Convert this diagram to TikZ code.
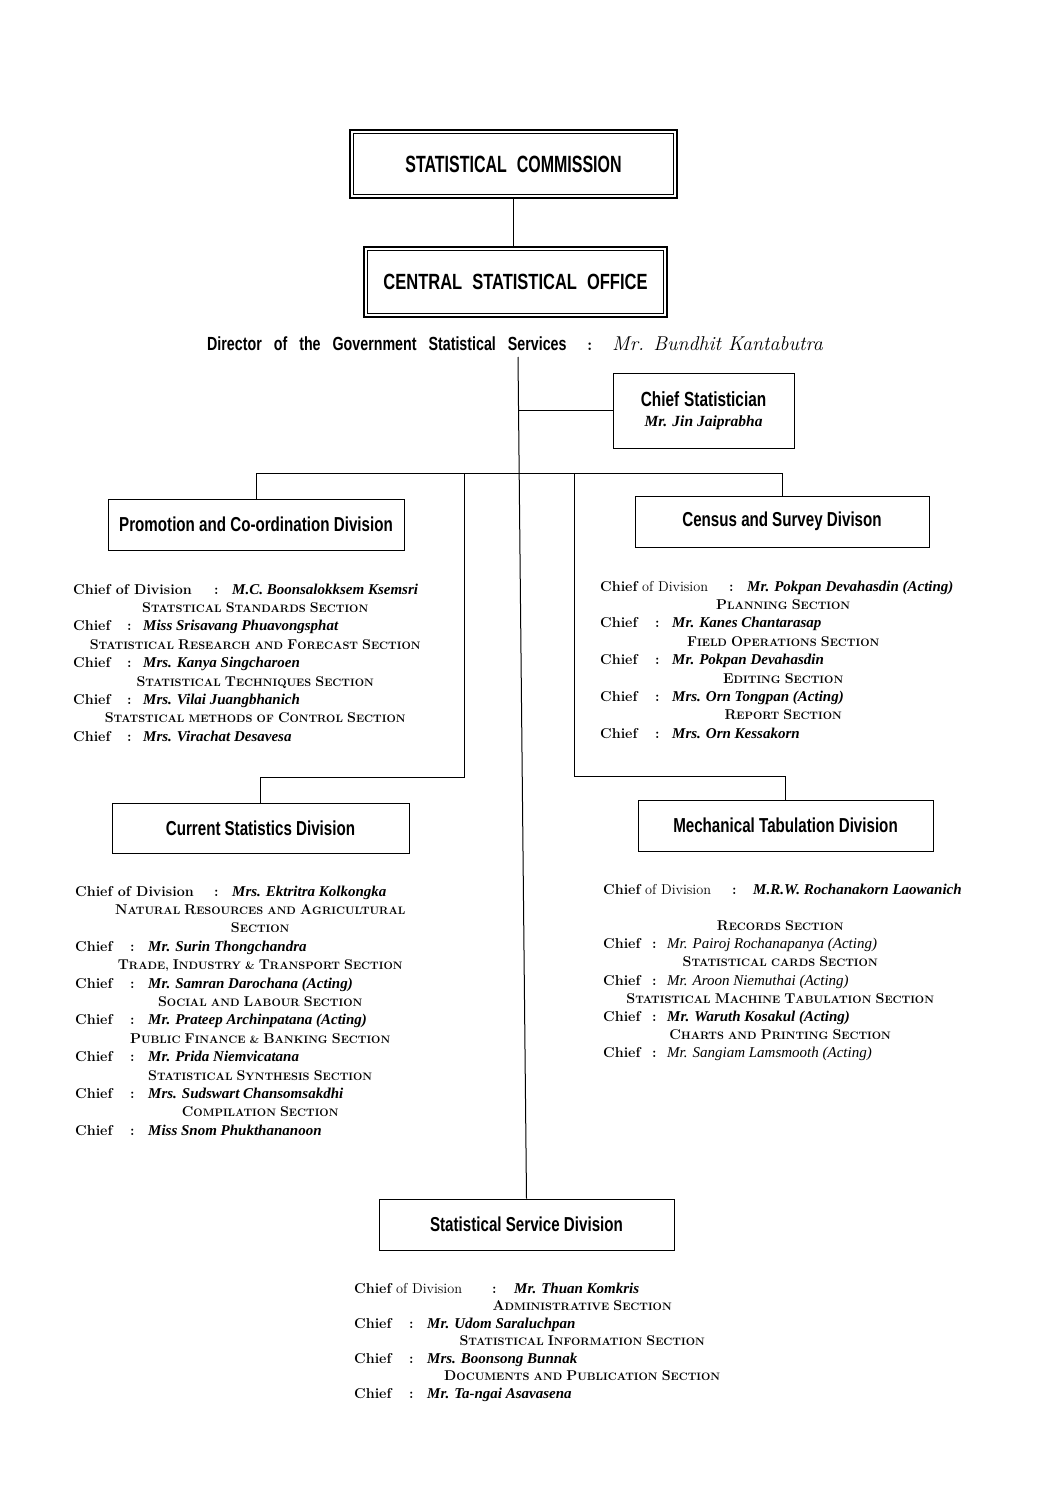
\documentclass[tikz,border=0pt]{standalone}
\usepackage{fontspec}
\newfontfamily\hdA[FakeStretch=0.68]{Liberation Sans}
\newfontfamily\hd[FakeStretch=0.75]{Liberation Sans}
\newfontfamily\nmf{Liberation Serif}
\newcommand\C[1]{{\fontsize{14.2}{14}\selectfont #1}}
\newcommand\scf{\fontsize{10.8}{10.8}\selectfont\bfseries}
\newcommand\sct[1]{\hspace*{\fill}{\scf #1}\hspace*{\fill}\\}
\newcommand\nmb[1]{\mbox{\nmf\bfseries\itshape\fontsize{15}{15}\selectfont #1}}
\newcommand\nmr[1]{\mbox{\nmf\itshape\fontsize{15}{15}\selectfont #1}}
\newcommand\cod[4]{\makebox[#1][l]{#3}\makebox[#2][l]{\bfseries :}\nmb{#4}\\}
\newcommand\chf[3]{\makebox[#1][l]{\bfseries Chief}\makebox[#2][l]{\bfseries :}\nmb{#3}\\}
\newcommand\chfr[3]{\makebox[#1][l]{\bfseries Chief}\makebox[#2][l]{\bfseries :}\nmr{#3}\\}
\tikzset{
  divbox/.style={draw, line width=1pt, inner sep=0pt, font=\hd\bfseries\fontsize{20.2}{22}\selectfont},
  topbox/.style={draw, line width=2.4pt, inner sep=0pt},
  innerframe/.style={line width=0.8pt},
  conn/.style={line width=1pt},
  block/.style={anchor=base west, inner sep=0pt, font=\fontsize{14.3}{18.4}\selectfont},
}
\begin{document}
\begin{tikzpicture}[x=1pt,y=-1pt]
\fill[white] (0,0) rectangle (1040,1487);
\useasboundingbox (0,0) rectangle (1040,1487);

% top boxes
\node[topbox, minimum width=327pt, minimum height=68pt, font=\hdA\bfseries\fontsize{23.5}{26}\selectfont] (sc) at (513.5,164) {STATISTICAL\hspace{10pt}COMMISSION};
\draw[innerframe] ([shift={(5,5)}]sc.north west) rectangle ([shift={(-5,-5)}]sc.south east);
\node[topbox, minimum width=303pt, minimum height=70pt, font=\hd\bfseries\fontsize{22}{26}\selectfont] (cso) at (515.5,282) {CENTRAL\hspace{10pt}STATISTICAL\hspace{10pt}OFFICE};
\draw[innerframe] ([shift={(5,5)}]cso.north west) rectangle ([shift={(-5,-5)}]cso.south east);
\draw[conn] (sc.south) -- (sc.south |- cso.north);

% director line
\node[anchor=base west, inner sep=0pt, font=\hd\bfseries\fontsize{19}{20}\selectfont] (dir) at (207,350) {{\spaceskip=12pt Director of the Government Statistical Services}};
\node[anchor=base west, inner sep=0pt, font=\bfseries\fontsize{17}{20}\selectfont] (dircolon) at (587,350) {:};
\node[anchor=base west, inner sep=0pt, font=\itshape\fontsize{20}{20}\selectfont] (dirname) at (612,350) {Mr. Bundhit Kantabutra};

% chief statistician
\node[draw, line width=1pt, inner sep=0pt, minimum width=181pt, minimum height=75pt, align=center] (cs) at (703.5,410.5)
  {{\hd\bfseries\fontsize{20.5}{20}\selectfont Chief\hspace{5pt}Statistician}\\[8pt]{\nmf\bfseries\itshape\fontsize{15.5}{16}\selectfont Mr. Jin Jaiprabha}};

% division boxes
\node[divbox, minimum width=296pt, minimum height=51pt] (promo) at (256,524.5) {Promotion and Co-ordination Division};
\node[divbox, minimum width=294pt, minimum height=51pt] (census) at (782,521.5) {Census and\hspace{4pt}Survey Divison};
\node[divbox, minimum width=297pt, minimum height=50pt] (cur) at (260.5,828) {Current\hspace{4pt}Statistics Division};
\node[divbox, minimum width=295pt, minimum height=51pt] (mech) at (785.5,825.5) {Mechanical Tabulation Division};
\node[divbox, minimum width=295pt, minimum height=51pt] (ss) at (526.5,1224.5) {Statistical Service Division};

% connectors
\coordinate (dirbot) at (518,357);
\coordinate (csj) at (518,410.5);
\coordinate (jy) at (0,473);
\coordinate (lv) at (464,473);
\coordinate (rv) at (574,473);
\coordinate (ly) at (0,777);
\coordinate (ry) at (0,776);
\draw[conn] (dirbot) -- (ss.north);
\draw[conn] (csj) -- (cs.west);
\draw[conn] (promo.north) -- (promo.north |- jy) -- (census.north |- jy) -- (census.north);
\draw[conn] (lv) -- (lv |- ly) -- (cur.north |- ly) -- (cur.north);
\draw[conn] (rv) -- (rv |- ry) -- (mech.north |- ry) -- (mech.north);

% text blocks
\node[block] (b1) at (73,594) {\begin{minipage}[t]{364pt}
\cod{141pt}{18pt}{\bfseries Chief of Division}{M.C. Boonsalokksem Ksemsri}
\sct{\C{S}TATSTICAL \C{S}TANDARDS \C{S}ECTION}
\chf{54pt}{16pt}{Miss Srisavang Phuavongsphat}
\sct{\C{S}TATISTICAL \C{R}ESEARCH AND \C{F}ORECAST \C{S}ECTION}
\chf{54pt}{16pt}{Mrs. Kanya Singcharoen}
\sct{\C{S}TATISTICAL \C{T}ECHNIQUES \C{S}ECTION}
\chf{54pt}{16pt}{Mrs. Vilai Juangbhanich}
\sct{\C{S}TATSTICAL METHODS OF \C{C}ONTROL \C{S}ECTION}
\chf{54pt}{16pt}{Mrs. Virachat Desavesa}
\end{minipage}};

\node[block] (b2) at (600,591) {\begin{minipage}[t]{366pt}
\cod{129pt}{18pt}{{\bfseries Chief} of Division}{Mr. Pokpan Devahasdin (Acting)}
\sct{\C{P}LANNING \C{S}ECTION}
\chf{55pt}{17pt}{Mr. Kanes Chantarasap}
\sct{\C{F}IELD \C{O}PERATIONS \C{S}ECTION}
\chf{55pt}{17pt}{Mr. Pokpan Devahasdin}
\sct{\C{E}DITING \C{S}ECTION}
\chf{55pt}{17pt}{Mrs. Orn Tongpan (Acting)}
\sct{\C{R}EPORT \C{S}ECTION}
\chf{55pt}{17pt}{Mrs. Orn Kessakorn}
\end{minipage}};

\node[block] (b3) at (75,896) {\begin{minipage}[t]{370pt}
\cod{139pt}{18pt}{\bfseries Chief of Division}{Mrs. Ektritra Kolkongka}
\sct{\C{N}ATURAL \C{R}ESOURCES AND \C{A}GRICULTURAL}
\sct{\C{S}ECTION}
\chf{55pt}{18pt}{Mr. Surin Thongchandra}
\sct{\C{T}RADE, \C{I}NDUSTRY \& \C{T}RANSPORT \C{S}ECTION}
\chf{55pt}{18pt}{Mr. Samran Darochana (Acting)}
\sct{\C{S}OCIAL AND \C{L}ABOUR \C{S}ECTION}
\chf{55pt}{18pt}{Mr. Prateep Archinpatana (Acting)}
\sct{\C{P}UBLIC \C{F}INANCE \& \C{B}ANKING \C{S}ECTION}
\chf{55pt}{18pt}{Mr. Prida Niemvicatana}
\sct{\C{S}TATISTICAL \C{S}YNTHESIS \C{S}ECTION}
\chf{55pt}{18pt}{Mrs. Sudswart Chansomsakdhi}
\sct{\C{C}OMPILATION \C{S}ECTION}
\chf{55pt}{18pt}{Miss Snom Phukthananoon}
\end{minipage}};

\node[block] (b4) at (603,894) {\begin{minipage}[t]{354pt}\fontsize{14.3}{18.2}\selectfont
\cod{129pt}{21pt}{{\bfseries Chief} of Division}{M.R.W. Rochanakorn Laowanich}
\mbox{}\\
\sct{\C{R}ECORDS \C{S}ECTION}
\chfr{49pt}{15pt}{Mr. Pairoj Rochanapanya (Acting)}
\sct{\C{S}TATISTICAL CARDS \C{S}ECTION}
\chfr{49pt}{15pt}{Mr. Aroon Niemuthai (Acting)}
\sct{\C{S}TATISTICAL \C{M}ACHINE \C{T}ABULATION \C{S}ECTION}
\chf{49pt}{15pt}{Mr. Waruth Kosakul (Acting)}
\sct{\C{C}HARTS AND \C{P}RINTING \C{S}ECTION}
\chfr{49pt}{15pt}{Mr. Sangiam Lamsmooth (Acting)}
\end{minipage}};

\node[block] (b5) at (354,1293) {\begin{minipage}[t]{456pt}\fontsize{14.3}{17.5}\selectfont
\cod{138pt}{22pt}{{\bfseries Chief} of Division}{Mr. Thuan Komkris}
\sct{\C{A}DMINISTRATIVE \C{S}ECTION}
\chf{55pt}{18pt}{Mr. Udom Saraluchpan}
\sct{\C{S}TATISTICAL \C{I}NFORMATION \C{S}ECTION}
\chf{55pt}{18pt}{Mrs. Boonsong Bunnak}
\sct{\C{D}OCUMENTS AND \C{P}UBLICATION \C{S}ECTION}
\chf{55pt}{18pt}{Mr. Ta-ngai Asavasena}
\end{minipage}};
\end{tikzpicture}
\end{document}
